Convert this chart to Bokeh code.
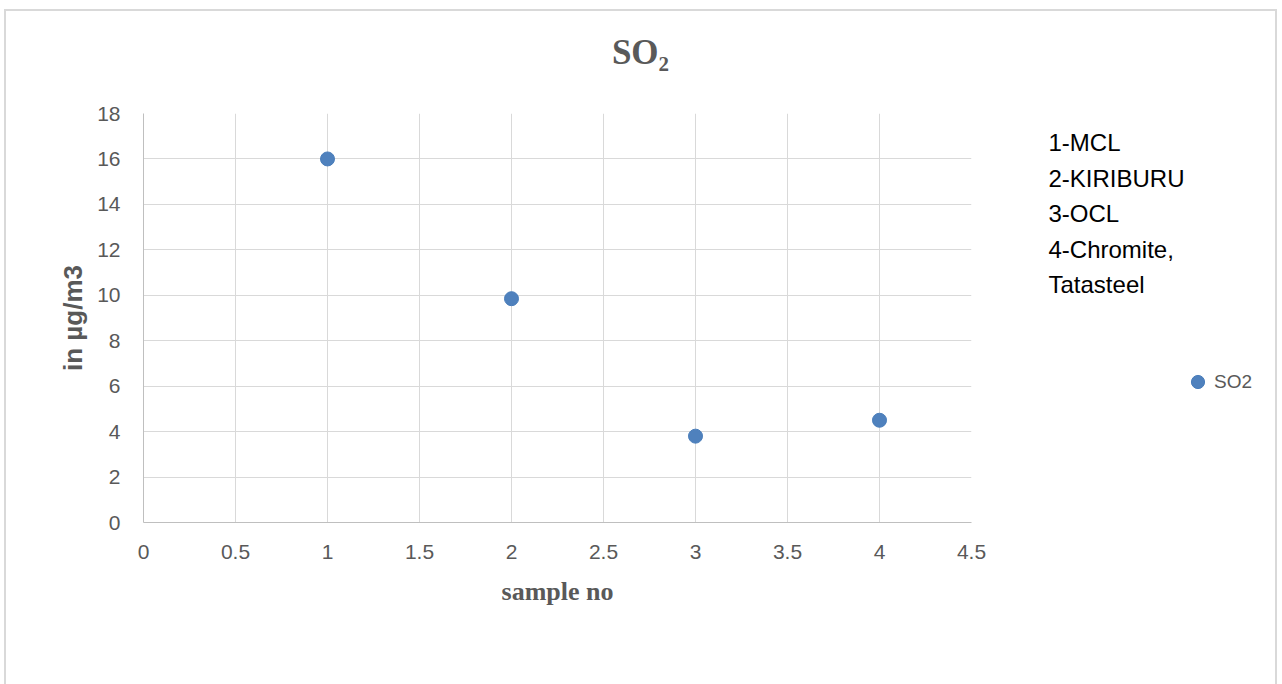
from bokeh.plotting import figure
from bokeh.layouts import row, column
from bokeh.models import Range1d, FixedTicker, Label, Legend, LegendItem
from bokeh.embed import file_html
from bokeh.resources import INLINE

sample_no = [1, 2, 3, 4]
so2 = [16.0, 9.85, 3.8, 4.5]
series_name = "SO2"
title_text = "SO₂"
site_notes = ["1-MCL", "2-KIRIBURU", "3-OCL", "4-Chromite,", "Tatasteel"]
x_ticks = [0, 0.5, 1, 1.5, 2, 2.5, 3, 3.5, 4, 4.5]
y_ticks = [0, 2, 4, 6, 8, 10, 12, 14, 16, 18]

W, H = 1282, 684
TOP_H = 100
MAIN_W = 1000
FRAME_L, FRAME_R, FRAME_T, FRAME_B = 143, 971, 113, 522
GRAY = "#595959"
BLUE = "#4f81bd"
EDGE = "#4a7ebb"


def bare(fig):
    fig.axis.visible = False
    fig.grid.visible = False
    fig.outline_line_color = None
    fig.background_fill_alpha = 0
    fig.border_fill_alpha = 0
    return fig


# --- title strip ---
p_top = bare(figure(width=W, height=TOP_H, output_backend="svg", toolbar_location=None,
                    x_range=Range1d(0, W), y_range=Range1d(TOP_H, 0),
                    min_border=0))
p_top.add_layout(Label(x=640, y=52, text=title_text, text_font="Liberation Serif",
                       text_font_style="bold", text_font_size="35px", text_color=GRAY,
                       text_align="center", text_baseline="middle"))

# --- main chart ---
p = figure(width=MAIN_W, height=H - TOP_H, output_backend="svg", toolbar_location=None,
           x_range=Range1d(0, 4.5), y_range=Range1d(0, 18),
           min_border_left=FRAME_L, min_border_right=MAIN_W - FRAME_R,
           min_border_top=FRAME_T - TOP_H, min_border_bottom=H - FRAME_B)
p.outline_line_color = None
p.background_fill_color = "white"
p.border_fill_alpha = 0

for ax in (p.xaxis[0], p.yaxis[0]):
    ax.axis_line_color = "#bfbfbf"
    ax.major_tick_line_color = None
    ax.minor_tick_line_color = None
    ax.major_tick_out = 0
    ax.major_tick_in = 0
    ax.major_label_text_font = "Liberation Sans"
    ax.major_label_text_font_size = "21px"
    ax.major_label_text_color = GRAY
    ax.axis_label_text_color = GRAY
    ax.axis_label_text_font_style = "bold"

p.xaxis.ticker = FixedTicker(ticks=x_ticks)
p.yaxis.ticker = FixedTicker(ticks=y_ticks)
p.xaxis.major_label_standoff = 22
p.yaxis.major_label_standoff = 23
p.xaxis.axis_label = "sample no"
p.xaxis.axis_label_text_font = "Liberation Serif"
p.xaxis.axis_label_text_font_size = "26px"
p.xaxis.axis_label_standoff = 15
p.yaxis.axis_label = "in µg/m3"
p.yaxis.axis_label_text_font = "Liberation Sans"
p.yaxis.axis_label_text_font_size = "26px"
p.yaxis.axis_label_standoff = 6

p.xgrid.grid_line_color = "#d9d9d9"
p.ygrid.grid_line_color = "#d9d9d9"

p.scatter(sample_no, so2, size=14, fill_color=BLUE, line_color=EDGE)

# --- right side: notes and legend (frame aligned with main frame, 1 data unit = 1 px) ---
SIDE_W = W - MAIN_W
p_side = bare(figure(width=SIDE_W, height=H - TOP_H, output_backend="svg",
                     toolbar_location=None,
                     x_range=Range1d(MAIN_W, W), y_range=Range1d(FRAME_B, FRAME_T),
                     min_border_left=0, min_border_right=0,
                     min_border_top=FRAME_T - TOP_H, min_border_bottom=H - FRAME_B))
for i, t in enumerate(site_notes):
    p_side.add_layout(Label(x=1048, y=142 + 35.5 * i, text=t, text_font="Liberation Sans",
                            text_font_size="24px", text_color="#000000",
                            text_baseline="middle"))

# same series drawn here only to feed the legend swatch (lies outside this panel's range)
proxy = p_side.scatter(sample_no, so2, size=14, fill_color=BLUE, line_color=EDGE)
legend = Legend(items=[LegendItem(label=series_name, renderers=[proxy])],
                location=(181, 124), border_line_color=None, background_fill_alpha=0,
                label_text_font="Liberation Sans", label_text_font_size="19px",
                label_text_color=GRAY, glyph_width=33, glyph_height=33,
                label_standoff=-6, padding=0, margin=0, spacing=0)
p_side.add_layout(legend)

line = "linear-gradient(#d9d9d9, #d9d9d9)"
layout = column(
    p_top,
    row(p, p_side, spacing=0),
    spacing=0,
    styles={
        "background-color": "white",
        "background-image": f"{line}, {line}, {line}",
        "background-size": "2px 680px, 1273px 2px, 2px 680px",
        "background-position": "4px 9px, 4px 9px, 1275px 9px",
        "background-repeat": "no-repeat",
    },
)

open("out.html", "w").write(file_html(layout, INLINE))
